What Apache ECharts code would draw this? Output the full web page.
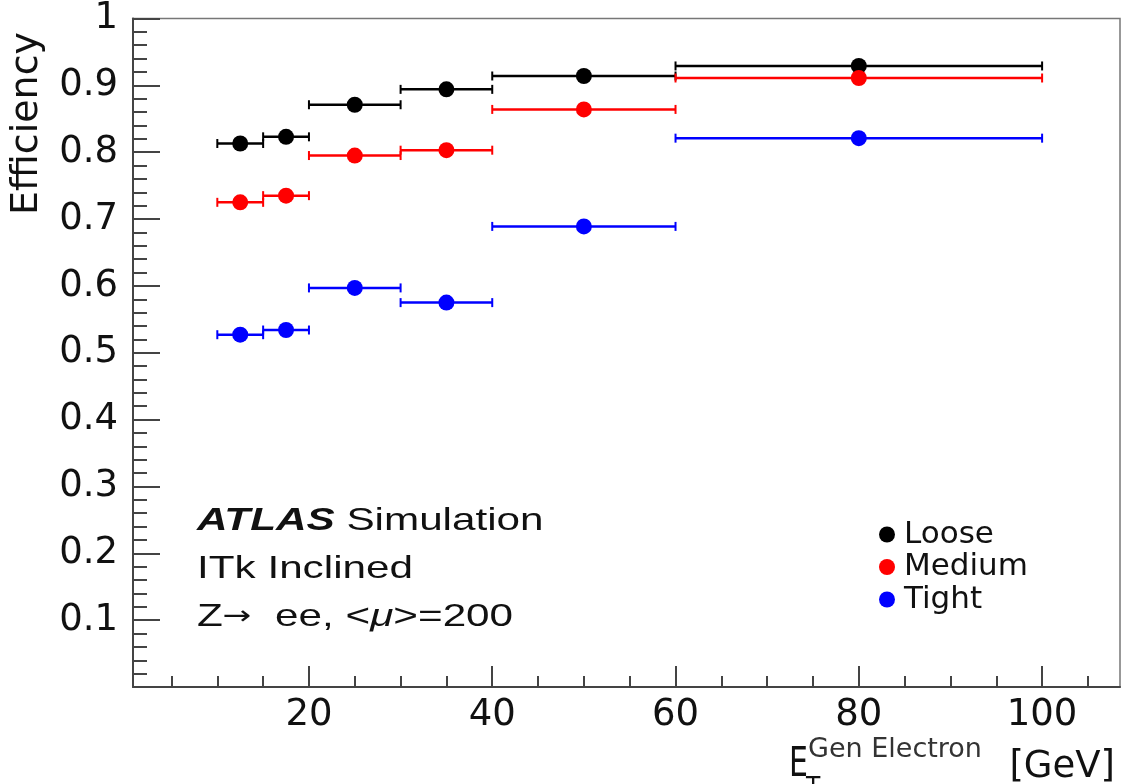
<!DOCTYPE html>
<html>
<head>
<meta charset="utf-8">
<script src="https://cdn.jsdelivr.net/npm/echarts@6/dist/echarts.min.js"></script>
<style>
html,body{margin:0;padding:0;background:#fff;}
#chart{width:1122px;height:784px;}
</style>
</head>
<body>
<div id="chart"></div>
<script>
// ---- data ----
const binLow  = [10, 15, 20, 30, 40, 60];
const binHigh = [15, 20, 30, 40, 60, 100];
const binCenter = [12.5, 17.5, 25, 35, 50, 80];
const loose  = [0.813, 0.823, 0.871, 0.894, 0.914, 0.929];
const medium = [0.725, 0.735, 0.795, 0.803, 0.864, 0.911];
const tight  = [0.527, 0.534, 0.597, 0.575, 0.689, 0.821];
const seriesNames = ['Loose', 'Medium', 'Tight'];
const seriesColors = ['#000000', '#ff0000', '#0000ff'];
const xMajorTicks = [20, 40, 60, 80, 100];
const xMinorTicks = [5, 10, 15, 25, 30, 35, 45, 50, 55, 65, 70, 75, 85, 90, 95, 105];
const yMajorTicks = [0.1, 0.2, 0.3, 0.4, 0.5, 0.6, 0.7, 0.8, 0.9, 1.0];
const yMinorTicks = [];
for (let i = 1; i < 50; i++) { if (i % 5 !== 0) yMinorTicks.push(+(i * 0.02).toFixed(2)); }

const allVals = [loose, medium, tight];

const chart = echarts.init(document.getElementById('chart'), null, {renderer: 'canvas'});

function errRender(params, api) {
  const lo = api.coord([api.value(0), api.value(2)]);
  const hi = api.coord([api.value(1), api.value(2)]);
  const color = api.visual('color');
  const h = 4.5;
  return {
    type: 'group',
    children: [
      {type: 'line', shape: {x1: lo[0], y1: lo[1], x2: hi[0], y2: hi[1]}, style: {stroke: color, lineWidth: 2.5}},
      {type: 'line', shape: {x1: lo[0], y1: lo[1] - h, x2: lo[0], y2: lo[1] + h}, style: {stroke: color, lineWidth: 2}},
      {type: 'line', shape: {x1: hi[0], y1: hi[1] - h, x2: hi[0], y2: hi[1] + h}, style: {stroke: color, lineWidth: 2}}
    ]
  };
}

const series = [];
allVals.forEach((vals, k) => {
  series.push({
    type: 'custom',
    renderItem: errRender,
    xAxisIndex: 0, yAxisIndex: 0,
    itemStyle: {color: seriesColors[k]},
    encode: {x: [0, 1], y: 2},
    data: vals.map((v, i) => [binLow[i], binHigh[i], v]),
    silent: true,
    z: 2
  });
});
allVals.forEach((vals, k) => {
  series.push({
    name: seriesNames[k],
    type: 'scatter',
    xAxisIndex: 0, yAxisIndex: 0,
    symbol: 'circle',
    symbolSize: 16,
    itemStyle: {color: seriesColors[k], opacity: 1},
    data: vals.map((v, i) => [binCenter[i], v]),
    z: 3
  });
});

const axisCol = '#444';
const tickFont = {fontFamily: 'DejaVu Sans', fontSize: 37, color: '#111'};

const option = {
  animation: false,
  backgroundColor: '#ffffff',
  grid: {left: 133, top: 15, right: 2, bottom: 97, show: true, borderColor: '#777', borderWidth: 1.5, backgroundColor: 'transparent'},
  legend: {
    data: seriesNames,
    orient: 'vertical',
    left: 874, top: 514,
    icon: 'circle',
    itemWidth: 16, itemHeight: 16,
    itemGap: 1.5,
    textStyle: {fontFamily: 'DejaVu Sans', fontSize: 31, color: '#111', padding: [0, 0, 0, 4]}
  },
  xAxis: [
    {
      type: 'value', min: 0.8, max: 108.5,
      axisLine: {show: true, lineStyle: {color: axisCol, width: 2}},
      axisTick: {show: true, inside: true, length: 21, customValues: xMajorTicks, lineStyle: {color: axisCol, width: 2}},
      axisLabel: {show: true, customValues: xMajorTicks, margin: 10, ...tickFont},
      splitLine: {show: false}
    },
    {
      type: 'value', min: 0.8, max: 108.5, position: 'bottom',
      axisLine: {show: false},
      axisTick: {show: true, inside: true, length: 11, customValues: xMinorTicks, lineStyle: {color: axisCol, width: 2}},
      axisLabel: {show: false},
      splitLine: {show: false}
    }
  ],
  yAxis: [
    {
      type: 'value', min: 0, max: 1,
      axisLine: {show: true, lineStyle: {color: axisCol, width: 2}},
      axisTick: {show: true, inside: true, length: 27, customValues: yMajorTicks, lineStyle: {color: axisCol, width: 2}},
      axisLabel: {show: true, customValues: yMajorTicks, margin: 15, formatter: v => (Math.abs(v - 1) < 1e-9 ? '1' : v.toFixed(1)), ...tickFont},
      splitLine: {show: false}
    },
    {
      type: 'value', min: 0, max: 1, position: 'left',
      axisLine: {show: false},
      axisTick: {show: true, inside: true, length: 14, customValues: yMinorTicks, lineStyle: {color: axisCol, width: 2}},
      axisLabel: {show: false},
      splitLine: {show: false}
    }
  ],
  graphic: [
    {type: 'text', x: 27, y: 215, rotation: Math.PI / 2,
     style: {text: 'Efficiency', fontFamily: 'DejaVu Sans', fontSize: 38, fill: '#111', align: 'left', verticalAlign: 'middle'}},
    {type: 'text', x: 197, y: 521, scaleX: 1.32,
     style: {text: '{b|ATLAS} {n|Simulation}', fontFamily: 'Liberation Sans', fontSize: 32, fill: '#111', align: 'left', verticalAlign: 'middle',
       rich: {b: {fontFamily: 'Liberation Sans', fontSize: 32, fontWeight: 'bold', fontStyle: 'italic', fill: '#111'},
              n: {fontFamily: 'Liberation Sans', fontSize: 32, fill: '#111'}}}},
    {type: 'text', x: 197, y: 569, scaleX: 1.32,
     style: {text: 'ITk Inclined', fontFamily: 'Liberation Sans', fontSize: 32, fill: '#111', align: 'left', verticalAlign: 'middle'}},
    {type: 'text', x: 197, y: 617, scaleX: 1.32,
     style: {text: '{n|Z}{a|→}{n|  ee, <}{i|μ}{n|>=200}', fontFamily: 'Liberation Sans', fontSize: 32, fill: '#111', align: 'left', verticalAlign: 'middle',
       rich: {n: {fontFamily: 'Liberation Sans', fontSize: 32, fill: '#111'},
              a: {fontFamily: 'DejaVu Sans', fontSize: 26, fill: '#111'},
              i: {fontFamily: 'Liberation Sans', fontSize: 32, fontStyle: 'italic', fill: '#111'}}}},
    {type: 'text', x: 789, y: 766, scaleX: 0.75,
     style: {text: 'E', fontFamily: 'DejaVu Sans', fontSize: 40, fill: '#111', align: 'left', verticalAlign: 'middle'}},
    {type: 'text', x: 806, y: 789, scaleX: 0.9,
     style: {text: 'T', fontFamily: 'DejaVu Sans', fontSize: 26, fill: '#111', align: 'left', verticalAlign: 'middle'}},
    {type: 'text', x: 808, y: 750,
     style: {text: 'Gen Electron', fontFamily: 'DejaVu Sans', fontSize: 27, fill: '#333', align: 'left', verticalAlign: 'middle'}},
    {type: 'text', x: 1115, y: 767,
     style: {text: '[GeV]', fontFamily: 'DejaVu Sans', fontSize: 37, fill: '#111', align: 'right', verticalAlign: 'middle'}}
  ],
  series: series
};
chart.setOption(option);
</script>
</body>
</html>
